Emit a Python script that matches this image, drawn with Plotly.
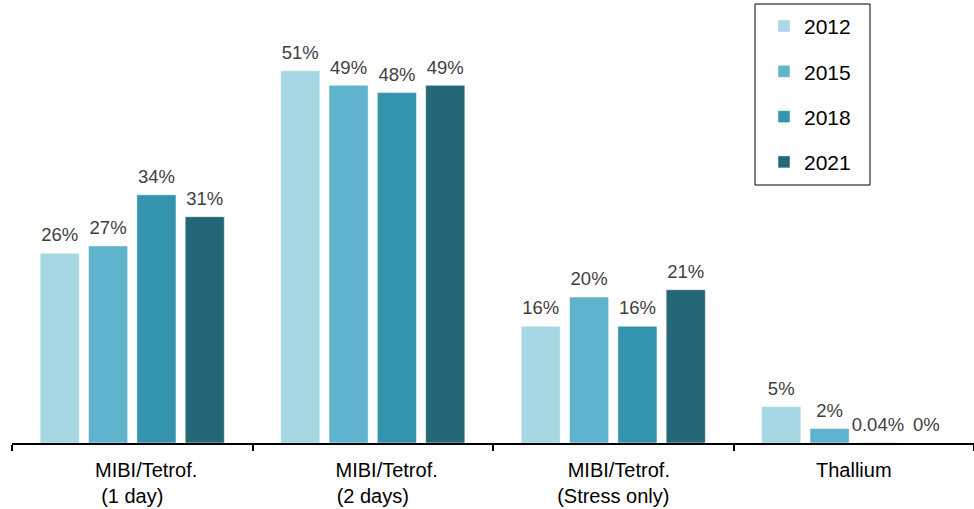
import plotly.graph_objects as go

categories = ["MIBI/Tetrof.<br>(1 day)", "MIBI/Tetrof.<br>(2 days)", "MIBI/Tetrof.<br>(Stress only)", "Thallium"]
tick_text = ["\u00a0" * 5 + "MIBI/Tetrof.<br>(1 day)",
             "\u00a0" * 5 + "MIBI/Tetrof.<br>(2 days)",
             "\u00a0" * 2 + "MIBI/Tetrof.<br>(Stress only)",
             "Thallium"]
years = ["2012", "2015", "2018", "2021"]
values = {
    "2012": [26, 51, 16, 5],
    "2015": [27, 49, 20, 2],
    "2018": [34, 48, 16, 0.04],
    "2021": [31, 49, 21, 0],
}
labels = {
    "2012": ["26%", "51%", "16%", "5%"],
    "2015": ["27%", "49%", "20%", "2%"],
    "2018": ["34%", "48%", "16%", "0.04%"],
    "2021": ["31%", "49%", "21%", "0%"],
}
colors = {"2012": "#a7d7e2", "2015": "#5fb3cc", "2018": "#3594ad", "2021": "#246877"}

FONT = "Arial, Liberation Sans, sans-serif"
LABEL_GAP = 0.65  # extra space (in % units) between bar top and its value label

fig = go.Figure()
for y in years:
    fig.add_trace(go.Bar(
        name=y, x=categories, y=values[y], offsetgroup=y,
        marker=dict(color=colors[y], line=dict(width=1, color="rgba(255,255,255,0.5)")),
        legendgroup=y, hoverinfo="x+y",
    ))
for y in years:
    fig.add_trace(go.Bar(
        name=y + " labels", x=categories, y=[LABEL_GAP] * len(categories),
        base=values[y], offsetgroup=y,
        marker=dict(color="rgba(0,0,0,0)", line=dict(width=0)),
        text=labels[y], textposition="outside", constraintext="none", cliponaxis=False,
        textfont=dict(family=FONT, size=18.5, color="#404040"),
        showlegend=False, hoverinfo="skip", legendgroup=y,
    ))

fig.update_layout(
    width=974, height=509,
    margin=dict(l=12, r=0, t=5, b=66),
    plot_bgcolor="white", paper_bgcolor="white",
    barmode="group", bargap=0.196, bargroupgap=0.19,
    font=dict(family=FONT, size=16, color="#000000"),
    showlegend=True,
    legend=dict(
        x=0.7817, y=0.998, xanchor="left", yanchor="top",
        borderwidth=0, bgcolor="rgba(0,0,0,0)",
        font=dict(family=FONT, size=21, color="#000000"),
        traceorder="grouped", tracegroupgap=15,
        itemwidth=30,
    ),
    shapes=[dict(
        type="rect", xref="paper", yref="paper",
        x0=(755 - 12) / 962, x1=(870 - 12) / 962,
        y0=1 - (185 - 5) / 438, y1=1 + 1 / 438,
        line=dict(color="black", width=1), fillcolor="rgba(0,0,0,0)", layer="below",
    )],
)
fig.update_xaxes(
    range=[-0.5, 3.5], showline=True, linecolor="black", linewidth=2,
    ticks="outside", tickson="boundaries", ticklen=6, tickwidth=2, tickcolor="black",
    tickmode="array", tickvals=categories, ticktext=tick_text,
    tickfont=dict(family=FONT, size=20, color="#000000"),
    ticklabelstandoff=8,
    showgrid=False,
)
fig.update_yaxes(range=[0, 60], visible=False, showgrid=False)

fig.write_html("out.html")
